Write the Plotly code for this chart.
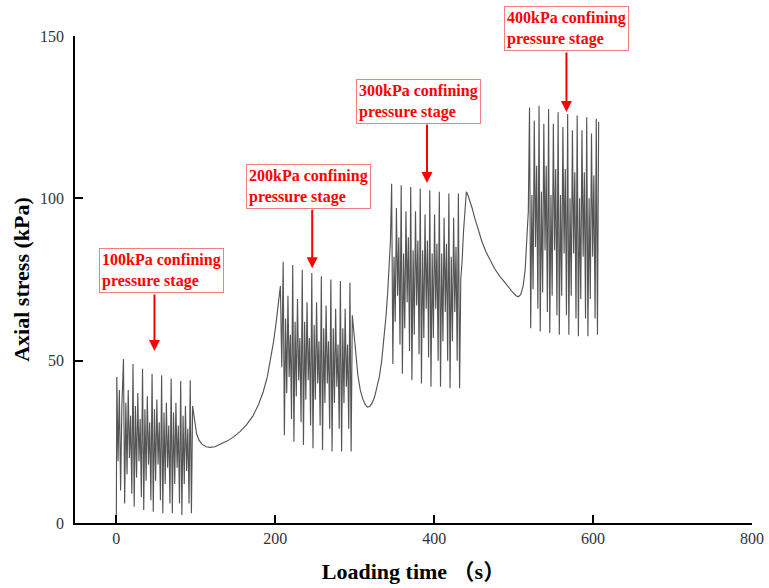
import plotly.graph_objects as go

# ---------------- data ----------------
# Stage 1 : 100 kPa confining pressure (time s, axial stress kPa)
s1_t = [0, 0.6, 2.2, 3.8, 5.4, 7.0,
        9, 10.5, 12, 13.5, 15, 16.5, 18, 19.5,
        21, 22.5, 24, 25.5, 27, 28.5, 30, 31.5,
        33, 34.5, 36, 37.5, 39, 40.5, 42, 43.5,
        45, 46.5, 48, 49.5, 51, 52.5, 54, 55.5,
        57, 58.5, 60, 61.5, 63, 64.5, 66, 67.5,
        69, 70.5, 72, 73.5, 75, 76.5, 78, 79.5,
        81, 82.5, 84, 85.5, 87, 88.5, 90, 91.5,
        93, 94.5, 96]
s1_v = [0, 45, 19, 41, 10, 36,
        50.5, 6, 37, 15, 41, 20, 33, 9,
        49, 5, 36, 14, 40, 19, 32, 8,
        47.5, 4, 35, 13, 39, 18, 31, 7,
        46, 3.5, 35, 13, 38, 18, 31, 7,
        45.5, 3, 34, 12, 37, 17, 30, 6,
        44.5, 3, 34, 12, 37, 17, 30, 6,
        43.7, 2.5, 33, 12, 36, 16, 29, 6,
        44, 3, 36]

# Rest between stage 1 and 2
r1_t = [97.5, 99, 101, 104, 108, 113, 118, 124, 132, 140, 148, 156, 164,
        172, 179, 185, 190, 194, 198, 201, 204, 206.5]
r1_v = [33, 30, 27.5, 25.5, 24.2, 23.5, 23.3, 23.5, 24.3, 25.3, 26.6, 28.2, 30.3,
        33, 36.5, 40.5, 45, 50, 56, 61.5, 67.5, 73]

# Stage 2 : 200 kPa
s2_t = [208.2,
        210, 211.5, 213, 214.5, 216, 217.5, 219, 220.5,
        222, 223.5, 225, 226.5, 228, 229.5, 231, 232.5,
        234, 235.5, 237, 238.5, 240, 241.5, 243, 244.5,
        246, 247.5, 249, 250.5, 252, 253.5, 255, 256.5,
        258, 259.5, 261, 262.5, 264, 265.5, 267, 268.5,
        270, 271.5, 273, 274.5, 276, 277.5, 279, 280.5,
        282, 283.5, 285, 286.5, 288, 289.5, 291, 292.5,
        294, 295.5, 297, 298.5]
s2_v = [48,
        80.5, 27, 63, 40, 70, 45, 58, 32,
        79.5, 25, 62, 39, 69, 44, 57, 31,
        78, 24, 62, 38, 68, 44, 57, 30,
        77, 23, 61, 38, 68, 43, 56, 30,
        76, 22.5, 60, 37, 67, 43, 56, 29,
        75, 22, 60, 37, 66, 42, 55, 29,
        74.5, 22, 60, 37, 66, 42, 55, 29,
        74, 22, 64, 60]

# Rest between stage 2 and 3
r2_t = [300, 302, 304, 307, 310, 313, 316, 319, 322, 325, 328, 331, 334,
        337, 339.5, 341.5, 343.5, 345]
r2_v = [56, 50, 45.5, 41, 38.3, 36.6, 35.7, 35.9, 37, 38.8, 41.5, 45, 50,
        57, 64, 71, 80, 87]

# Stage 3 : 300 kPa
s3_t = [346.5, 348, 349.5, 351, 352.5, 354, 355.5, 357,
        358.5, 360, 361.5, 363, 364.5, 366, 367.5, 369,
        370.5, 372, 373.5, 375, 376.5, 378, 379.5, 381,
        382.5, 384, 385.5, 387, 388.5, 390, 391.5, 393,
        394.5, 396, 397.5, 399, 400.5, 402, 403.5, 405,
        406.5, 408, 409.5, 411, 412.5, 414, 415.5, 417,
        418.5, 420, 421.5, 423, 424.5, 426, 427.5, 429,
        430.5, 432, 433.5]
s3_v = [104.5, 49, 82, 62, 97, 70, 88, 55,
        104, 46, 83, 60, 96, 68, 88, 53,
        103.5, 44, 84, 58, 96, 67, 87, 52,
        103, 43, 84, 57, 95, 66, 87, 51,
        102.5, 42, 83, 57, 95, 66, 86, 50,
        102, 42, 83, 56, 94, 65, 86, 50,
        101.5, 41.5, 82, 56, 94, 65, 85, 50,
        101.5, 41.5, 75]

# Rest between stage 3 and 4
r3_t = [435, 437, 439, 440.5, 442.5, 445, 448, 451, 455, 460, 465, 470, 476,
        482, 488, 494, 499, 503, 506, 509, 512, 514.5, 516.5, 518.5]
r3_v = [80, 90, 98, 102, 101, 99.3, 96.8, 94, 90.5, 86.8, 83.6, 81, 78.4,
        76.2, 74.3, 72.5, 71, 70, 69.7, 70.4, 73, 78, 86, 96]

# Stage 4 : 400 kPa
s4_t = [520, 521.5, 523, 524.5, 526, 527.5, 529, 530.5,
        532, 533.5, 535, 536.5, 538, 539.5, 541, 542.5,
        544, 545.5, 547, 548.5, 550, 551.5, 553, 554.5,
        556, 557.5, 559, 560.5, 562, 563.5, 565, 566.5,
        568, 569.5, 571, 572.5, 574, 575.5, 577, 578.5,
        580, 581.5, 583, 584.5, 586, 587.5, 589, 590.5,
        592, 593.5, 595, 596.5, 598, 599.5, 601, 602.5,
        604, 605.5, 607]
s4_v = [128, 60, 101, 72, 124, 85, 110, 66,
        128.5, 59, 102, 71, 123, 84, 110, 65,
        127.5, 58.5, 101, 70, 123, 84, 109, 64,
        126.5, 58, 101, 70, 122, 83, 109, 64,
        126, 58, 100, 70, 121, 83, 108, 63,
        125.5, 57.5, 100, 69, 121, 82, 108, 63,
        125, 57.5, 100, 69, 120, 82, 107, 63,
        124.5, 58, 123.5]

stage_labels = ["100kPa confining<br>pressure stage",
                "200kPa confining<br>pressure stage",
                "300kPa confining<br>pressure stage",
                "400kPa confining<br>pressure stage"]

x_ticks = [0, 200, 400, 600, 800]
y_ticks = [0, 50, 100, 150]

# ---------------- figure ----------------
t_all = s1_t + r1_t + s2_t + r2_t + s3_t + r3_t + s4_t
v_all = s1_v + r1_v + s2_v + r2_v + s3_v + r3_v + s4_v
assert len(t_all) == len(v_all)

fig = go.Figure(go.Scatter(x=t_all, y=v_all, mode="lines",
                           line=dict(color="#555555", width=1.15),
                           showlegend=False))

serif = "Liberation Serif, Times New Roman, Noto Sans CJK SC, serif"

axis_common = dict(showline=True, linecolor="black", linewidth=1.5,
                   ticks="inside", ticklen=8, tickwidth=1.5, tickcolor="black",
                   showgrid=False, zeroline=False, automargin=False,
                   tickfont=dict(family=serif, size=16, color="#333333"))

fig.update_layout(
    width=769, height=588,
    margin=dict(l=75, r=17, t=36, b=65),
    paper_bgcolor="white", plot_bgcolor="white",
    xaxis=dict(range=[-52, 800], tickvals=x_ticks,
               title=dict(text="Loading time （s）", standoff=18,
                          font=dict(family=serif, size=22, color="black", weight="bold")),
               **axis_common),
    yaxis=dict(range=[0, 150], tickvals=y_ticks, ticklabelstandoff=6,
               title=dict(text="Axial stress (kPa)", standoff=4,
                          font=dict(family=serif, size=22, color="black", weight="bold")),
               **axis_common),
)

# label boxes: centre x in data coords, centre y in paper coords
box_pos = [(57, 0.5175), (242, 0.690), (380, 0.8655), (566, 1.0144)]
# arrows: tip in data coords, length in px
arrow_tip = [(48, 53), (246.5, 78.5), (391, 104.7), (566.5, 126.6)]
arrow_len = [-58, -60, -60, -61]

for lab, (bx, by), (ax_, ay_), L in zip(stage_labels, box_pos, arrow_tip, arrow_len):
    fig.add_annotation(x=bx, y=by, xref="x", yref="paper", xanchor="center", yanchor="middle",
                       text=lab, showarrow=False, align="left",
                       font=dict(family=serif, size=16, color="#ff0000", weight="bold"),
                       bordercolor="#f08080", borderwidth=1, borderpad=2, bgcolor="white")
    fig.add_annotation(x=ax_, y=ay_, xref="x", yref="y", text="", showarrow=True,
                       ax=0, ay=L, arrowcolor="#ff0000", arrowwidth=2,
                       arrowhead=2, arrowsize=1.1)

fig.write_html("out.html")
